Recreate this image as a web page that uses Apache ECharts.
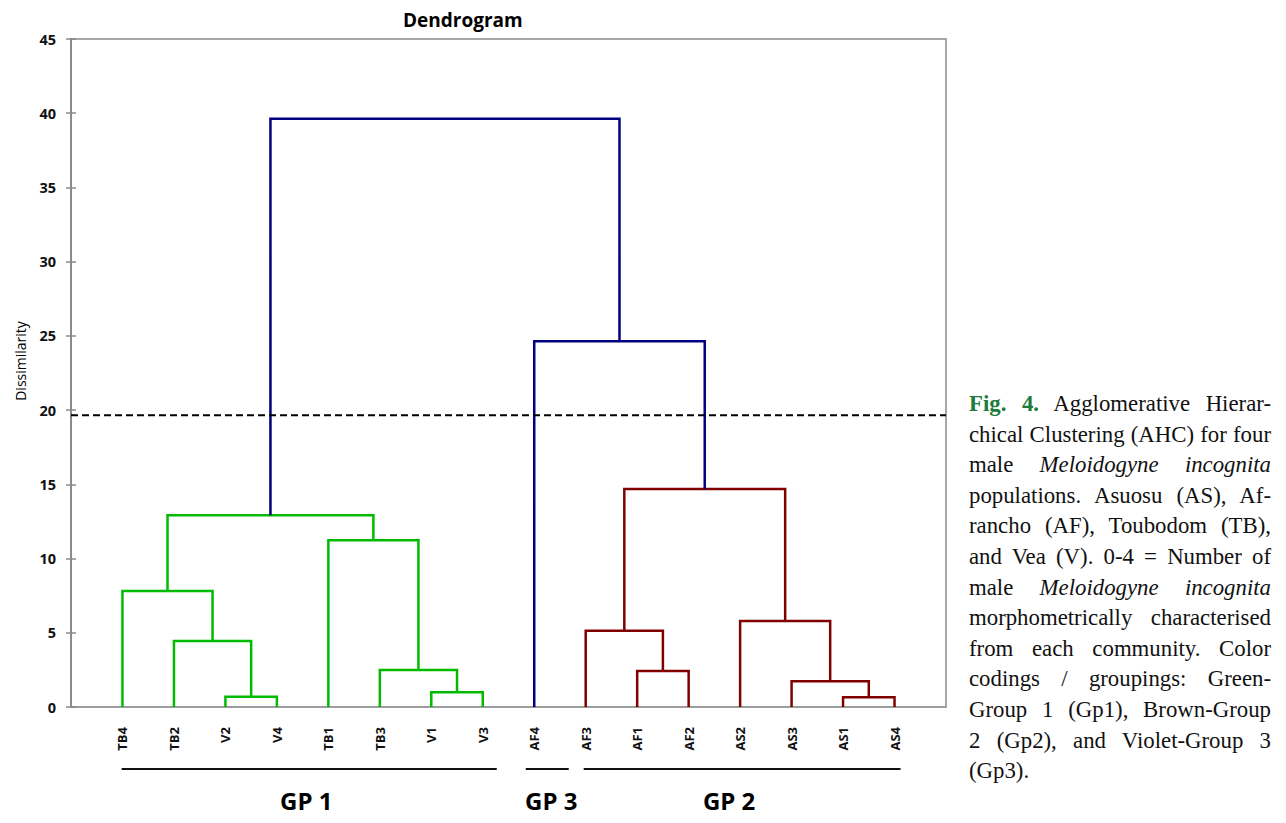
<!DOCTYPE html>
<html><head><meta charset="utf-8">
<script src="https://cdn.jsdelivr.net/npm/echarts@6/dist/echarts.min.js"></script>
<style>
html,body{margin:0;padding:0;background:#fff;}
#chart{position:absolute;left:0;top:0;width:1286px;height:823px;}
#caption{position:absolute;left:969px;top:389px;width:302px;font-family:"Liberation Serif","Times New Roman",serif;font-size:22.8px;line-height:30.6px;color:#111;}
#caption div{text-align:justify;text-align-last:justify;white-space:nowrap;}
#caption div.last{text-align-last:left;}
#caption .fig{color:#1e7b3a;font-weight:bold;}
</style></head><body>
<div id="chart"></div>
<div id="caption">
<div><span class="fig">Fig. 4.</span> Agglomerative Hierar-</div>
<div>chical Clustering (AHC) for four</div>
<div>male <i>Meloidogyne incognita</i></div>
<div>populations. Asuosu (AS), Af-</div>
<div>rancho (AF), Toubodom (TB),</div>
<div>and Vea (V). 0-4 = Number of</div>
<div>male <i>Meloidogyne incognita</i></div>
<div>morphometrically characterised</div>
<div>from each community. Color</div>
<div>codings / groupings: Green-</div>
<div>Group 1 (Gp1), Brown-Group</div>
<div>2 (Gp2), and Violet-Group 3</div>
<div class="last">(Gp3).</div>
</div>
<script>
// ---- data ----
const leaves = ['TB4','TB2','V2','V4','TB1','TB3','V1','V3','AF4','AF3','AF1','AF2','AS2','AS3','AS1','AS4'];
const leafGroup = ['GP 1','GP 1','GP 1','GP 1','GP 1','GP 1','GP 1','GP 1','GP 3','GP 2','GP 2','GP 2','GP 2','GP 2','GP 2','GP 2'];
// merges: node ids 0..15 are leaves, 16+ are merges in order
const mergeLeft   = [2, 6, 14, 13, 10, 5, 1, 9, 12, 0, 4, 25, 23, 8, 27];
const mergeRight  = [3, 7, 15, 18, 11, 17, 16, 20, 19, 22, 21, 26, 24, 28, 29];
const mergeHeight = [0.69, 0.99, 0.65, 1.73, 2.43, 2.49, 4.45, 5.14, 5.80, 7.82, 11.23, 12.92, 14.69, 24.64, 39.62];
const cutHeight = 19.66;
const groupNames = ['GP 1', 'GP 3', 'GP 2'];
const groupFirstLeaf = [1, 9, 10];
const groupLastLeaf  = [8, 9, 16];

// ---- styles ----
const groupColor = {'GP 1': '#00bb00', 'GP 2': '#800000', 'GP 3': '#000080'};
const aboveCutColor = '#000080';
const underlinePadL = [-0.8, -8.5, -2];
const underlinePadR = [14, 34.5, 6];
const labelShift = [-3, 4, -13];

const nodeX = [], nodeH = [], nodeG = [];
leaves.forEach((n, i) => { nodeX.push(i + 1); nodeH.push(0); nodeG.push(leafGroup[i]); });
const linkData = [];
mergeHeight.forEach((h, k) => {
  const a = mergeLeft[k], b = mergeRight[k];
  const color = h > cutHeight ? aboveCutColor : groupColor[nodeG[a]];
  linkData.push({
    coords: [[nodeX[a], nodeH[a]], [nodeX[a], h], [nodeX[b], h], [nodeX[b], nodeH[b]]],
    lineStyle: {color: color}
  });
  nodeX.push((nodeX[a] + nodeX[b]) / 2);
  nodeH.push(h);
  nodeG.push(nodeG[a]);
});

const chart = echarts.init(document.getElementById('chart'), null, {renderer: 'svg'});
const font = '"Open Sans", "DejaVu Sans", sans-serif';
const yBase = {
  type: 'value', min: 0, max: 45, interval: 5,
  splitLine: {show: false}
};
chart.setOption({
  animation: false,
  title: {
    text: 'Dendrogram', left: 398, top: 5,
    textStyle: {fontFamily: font, fontWeight: 'bold', fontSize: 19, color: '#000'}
  },
  grid: {left: 71, right: 340, top: 39, bottom: 116, show: true, borderColor: '#8a8a8a', borderWidth: 1.5},
  xAxis: {
    type: 'value', min: 0, max: leaves.length + 1, interval: 1,
    splitLine: {show: false},
    axisLine: {show: true, lineStyle: {color: '#9a9a9a', width: 1.5}},
    axisTick: {show: false},
    axisLabel: {
      rotate: 90, margin: 20, fontFamily: font, fontWeight: 'bold', fontSize: 13, color: '#111',
      formatter: v => leaves[v - 1] || '', showMinLabel: false, showMaxLabel: false
    }
  },
  yAxis: [
    Object.assign({}, yBase, {
      axisLine: {show: true, lineStyle: {color: '#8a8a8a', width: 2}},
      axisTick: {show: true, length: 5, lineStyle: {color: '#8a8a8a', width: 1.5}},
      axisLabel: {margin: 15, fontFamily: font, fontWeight: 'bold', fontSize: 14.5, color: '#111'}
    }),
    Object.assign({}, yBase, {
      position: 'left',
      axisLine: {show: false},
      axisTick: {show: true, inside: true, length: 5, lineStyle: {color: '#8a8a8a', width: 1.5}},
      axisLabel: {show: false}
    })
  ],
  series: [
    {
      type: 'lines', coordinateSystem: 'cartesian2d', polyline: true,
      xAxisIndex: 0, yAxisIndex: 0,
      lineStyle: {width: 2.5, opacity: 1},
      data: linkData, silent: true, z: 3
    },
    {
      type: 'line', xAxisIndex: 0, yAxisIndex: 0, symbol: 'none', silent: true, z: 4,
      data: [[0, cutHeight], [leaves.length + 1, cutHeight]],
      lineStyle: {color: '#000', width: 2, type: [7, 4]}
    }
  ]
});

const graphics = [{
  type: 'text', x: 20, y: 361, rotation: Math.PI / 2,
  style: {text: 'Dissimilarity', fontFamily: font, fontSize: 14, fill: '#000', align: 'center', verticalAlign: 'middle'}
}];
groupNames.forEach((g, i) => {
  const p1 = chart.convertToPixel({gridIndex: 0}, [groupFirstLeaf[i], 0]);
  const p2 = chart.convertToPixel({gridIndex: 0}, [groupLastLeaf[i], 0]);
  const x1 = p1[0] + underlinePadL[i], x2 = p2[0] + underlinePadR[i];
  graphics.push({type: 'line', shape: {x1: x1, y1: 769, x2: x2, y2: 769}, style: {stroke: '#111', lineWidth: 1.8}});
  graphics.push({type: 'text', x: (x1 + x2) / 2 + labelShift[i], y: 800,
    style: {text: g, fontFamily: font, fontWeight: 'bold', fontSize: 24, fill: '#000', align: 'center', verticalAlign: 'middle'}});
});
chart.setOption({graphic: graphics});
</script>
</body></html>
